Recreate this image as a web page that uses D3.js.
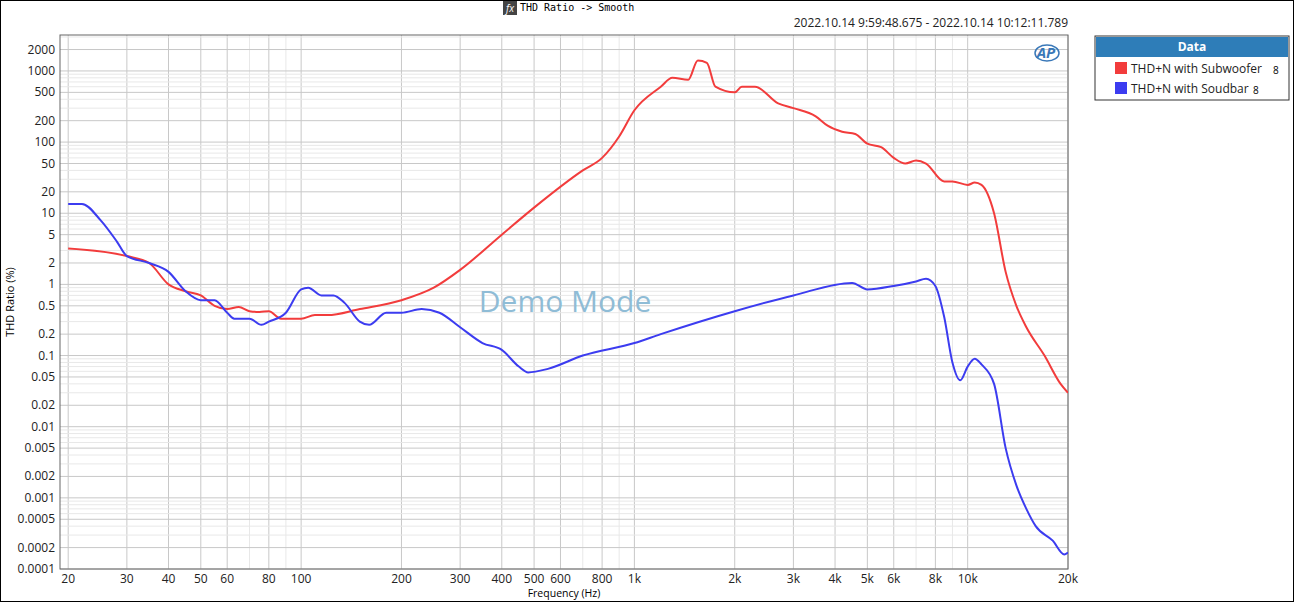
<!DOCTYPE html>
<html><head><meta charset="utf-8">
<script src="https://cdn.jsdelivr.net/npm/d3@7"></script>
<style>body{margin:0;background:#fff}svg{display:block;font-family:"Segoe UI","Open Sans",sans-serif}</style>
</head><body><svg id="chart" width="1294" height="602"></svg>
<script>
// Data
var xTicks = [20,30,40,50,60,80,100,200,300,400,500,600,800,1000,2000,3000,4000,5000,6000,8000,10000,20000];
var yTicks = [2000,1000,500,200,100,50,20,10,5,2,1,0.5,0.2,0.1,0.05,0.02,0.01,0.005,0.002,0.001,0.0005,0.0002,0.0001];
var subFreq = [20,30,35,40,45,50,55,60,65,70,75,80,87,100,110,120,150,200,250,300,400,500,700,800,900,1000,1200,1300,1450,1550,1650,1750,2000,2100,2300,2700,3000,3500,3800,4200,4600,5000,5500,6000,6500,7000,7500,8500,9000,10000,10500,11000,12000,13000,14000,15000,17000,19000,20000];
var subVal  = [3.2,2.5,2.0,1.0,0.8,0.7,0.5,0.45,0.48,0.42,0.41,0.42,0.33,0.33,0.37,0.37,0.45,0.6,0.9,1.6,5,12,40,60,120,280,600,800,750,1400,1300,600,500,600,600,350,300,230,170,140,130,95,85,60,50,55,50,28,28,25,27,25,10,1.5,0.5,0.25,0.1,0.04,0.03];
var barFreq = [20,22,25,28,30,35,40,45,50,55,60,63,70,76,80,90,100,105,115,125,135,150,160,180,200,230,260,300,350,400,450,480,550,700,1000,1200,2000,3000,4500,5000,6000,7000,7500,8000,8500,9000,9500,10000,10500,11000,12000,13000,14000,15000,16000,18000,19500,20000];
var barVal  = [13.5,13.5,8,4,2.5,2,1.5,0.8,0.6,0.6,0.4,0.33,0.33,0.27,0.3,0.4,0.85,0.9,0.7,0.7,0.55,0.3,0.27,0.4,0.4,0.45,0.4,0.25,0.15,0.12,0.07,0.058,0.065,0.1,0.15,0.2,0.42,0.7,1.05,0.85,0.95,1.1,1.2,0.95,0.35,0.08,0.045,0.07,0.09,0.075,0.04,0.005,0.0015,0.0007,0.0004,0.00025,0.00016,0.00017];

var svg = d3.select('#chart');
var L = 60, R = 1068, T = 35, B = 569;

// outer frame
svg.append('rect').attr('x',0.5).attr('y',0.5).attr('width',1293).attr('height',601)
    .attr('fill','#fff').attr('stroke','#000');

var x = d3.scaleLog().domain([18.9, 20000]).range([L, R]);
var y = d3.scaleLog().domain([0.0001, 3200]).range([B, T]);

// grid
var g = svg.append('g');
var minorX = [], minorY = [];
[10,100,1000,10000].forEach(function (d) { for (var k = 1; k < 10; k++) { var v = d*k; if (v >= 19 && v <= 20000) minorX.push(v); } });
[0.0001,0.001,0.01,0.1,1,10,100,1000].forEach(function (d) { for (var k = 1; k < 10; k++) { var v = d*k; if (v <= 3200) minorY.push(v); } });
g.selectAll('.mx').data(minorX).enter().append('line')
    .attr('x1', d => x(d)).attr('x2', d => x(d)).attr('y1', T).attr('y2', B)
    .attr('stroke', d => xTicks.indexOf(d) >= 0 ? '#c8c8c8' : '#e8e8e8');
g.selectAll('.my').data(minorY).enter().append('line')
    .attr('y1', d => y(d)).attr('y2', d => y(d)).attr('x1', L).attr('x2', R)
    .attr('stroke', d => yTicks.indexOf(d) >= 0 ? '#c8c8c8' : '#e8e8e8');

svg.append('rect').attr('x',L).attr('y',T).attr('width',R-L).attr('height',B-T)
    .attr('fill','none').attr('stroke','#666');

// tick labels
var kfmt = d => d >= 1000 ? (d/1000) + 'k' : d;
svg.selectAll('.xt').data(xTicks).enter().append('text')
    .attr('x', d => x(d)).attr('y', B + 14).attr('text-anchor','middle')
    .style('font-size', 12).style('fill','#222').text(kfmt);
svg.selectAll('.yt').data(yTicks).enter().append('text')
    .attr('x', L - 5).attr('y', d => y(d) + 4).attr('text-anchor','end')
    .style('font-size', 12).style('fill','#222').text(d => d);

svg.append('text').attr('x', (L+R)/2).attr('y', 597).attr('text-anchor','middle')
    .style('font-size', 10.5).text('Frequency (Hz)');
svg.append('text').attr('transform','translate(14,' + (T+B)/2 + ') rotate(-90)')
    .attr('text-anchor','middle').style('font-size', 11).text('THD Ratio (%)');

// title
svg.append('rect').attr('x',503).attr('y',1).attr('width',14).attr('height',14).attr('fill','#444');
svg.append('text').attr('x',510).attr('y',12).attr('text-anchor','middle').style('fill','#fff')
    .style('font-size',10).style('font-style','italic').text('fx');
svg.append('text').attr('x',520).attr('y',11).style('font-family','"DejaVu Sans Mono",monospace')
    .style('font-size',10).text('THD Ratio -> Smooth');
svg.append('text').attr('x',R).attr('y',27).attr('text-anchor','end').style('font-size',12)
    .style('fill','#222').text('2022.10.14 9:59:48.675 - 2022.10.14 10:12:11.789');

// watermark and logo
svg.append('text').attr('x',565).attr('y',312).attr('text-anchor','middle')
    .style('font-size',30).style('fill','#8fbcd6').text('Demo Mode');
svg.append('text').attr('x',1046).attr('y',58).attr('text-anchor','middle')
    .style('font-size',15).style('font-weight','bold').style('font-style','italic')
    .style('fill','#3a78b8').text('AP');
svg.append('ellipse').attr('cx',1047).attr('cy',53).attr('rx',12).attr('ry',8)
    .attr('fill','none').attr('stroke','#3a78b8').attr('stroke-width',1.5);

// lines
var clipId = 'plotclip';
svg.append('clipPath').attr('id', clipId).append('rect').attr('x',L).attr('y',T).attr('width',R-L).attr('height',B-T);
var line = d3.line().x(d => x(d[0])).y(d => y(d[1])).curve(d3.curveMonotoneX);
var series = [
    {name: 'THD+N with Subwoofer', color: '#f23c3c', data: d3.zip(subFreq, subVal)},
    {name: 'THD+N with Soudbar', color: '#3c3cf0', data: d3.zip(barFreq, barVal)}
];
svg.append('g').attr('clip-path','url(#' + clipId + ')').selectAll('path').data(series).enter().append('path')
    .attr('d', d => line(d.data)).attr('fill','none').attr('stroke', d => d.color).attr('stroke-width',2);

// legend
var lg = svg.append('g').attr('transform','translate(1095,36)');
lg.append('rect').attr('width',194).attr('height',64).attr('fill','#fff').attr('stroke','#333');
lg.append('rect').attr('x',1).attr('y',1).attr('width',192).attr('height',20).attr('fill','#2e7db8');
lg.append('text').attr('x',97).attr('y',15).attr('text-anchor','middle').style('fill','#fff')
    .style('font-size',12).style('font-weight','bold').text('Data');
var item = lg.selectAll('.li').data(series).enter().append('g')
    .attr('transform', (d, i) => 'translate(20,' + (26 + i*20) + ')');
item.append('rect').attr('width',12).attr('height',12).attr('fill', d => d.color);
item.append('text').attr('x',16).attr('y',11).style('font-size',12).style('fill','#222')
    .text(d => d.name);
item.append('text').attr('x', (d, i) => i ? 138 : 158).attr('y',12).style('font-size',10).text('8');
</script></body></html>
